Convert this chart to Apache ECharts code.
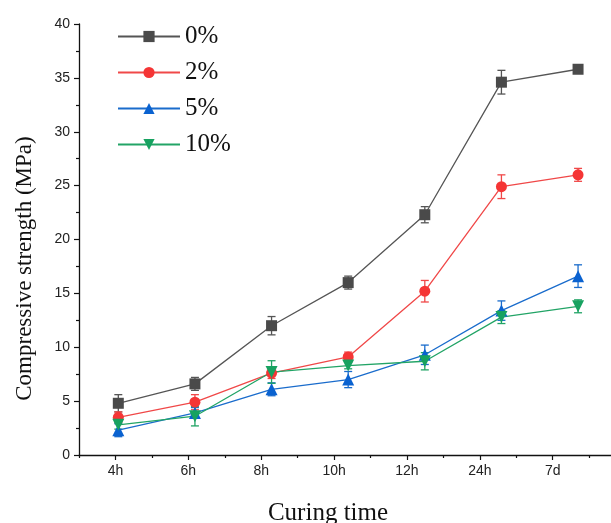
<!DOCTYPE html>
<html>
<head>
<meta charset="utf-8">
<script src="https://cdn.jsdelivr.net/npm/echarts@6/dist/echarts.min.js"></script>
<style>
  html, body { margin: 0; padding: 0; background: #fff; }
  #chart { width: 611px; height: 523px; }
</style>
</head>
<body>
<div id="chart"></div>
<script>
// Curing times (x axis) and compressive strength (MPa) per dosage, with ± error
const categories = ['4h', '6h', '8h', '10h', '12h', '24h', '7d'];
const seriesNames = ['0%', '2%', '5%', '10%'];

const strength0 = [4.8, 6.6, 12.0, 16.0, 22.3, 34.6, 35.8];
const error0 = [0.8, 0.6, 0.85, 0.6, 0.75, 1.1, 0.3];

const strength2 = [3.5, 4.9, 7.6, 9.1, 15.2, 24.9, 26.0];
const error2 = [0.5, 0.7, 0.5, 0.45, 1.0, 1.1, 0.6];

const strength5 = [2.3, 3.9, 6.1, 7.0, 9.3, 13.4, 16.6];
const error5 = [0.6, 0.5, 0.6, 0.75, 0.9, 0.9, 1.05];

const strength10 = [2.8, 3.6, 7.7, 8.3, 8.7, 12.8, 13.8];
const error10 = [0.4, 0.9, 1.05, 0.3, 0.8, 0.6, 0.6];

const yTicks = [0, 5, 10, 15, 20, 25, 30, 35, 40];

const colors = ['#4a4a4a', '#f53535', '#0a62d0', '#17a260'];
const lineColors = ['#555555', '#f04848', '#1a6ccc', '#22a466'];
const symbols = ['rect', 'circle', 'triangle', 'path://M0,0 L10,0 L5,9 Z'];
const symbolSizes = [11, 11, 12, 12];

const values = [strength0, strength2, strength5, strength10];
const errors = [error0, error2, error5, error10];

const positions = categories.map((c, i) => i + 1);

const chart = echarts.init(document.getElementById('chart'));

const lineSeries = values.map((vals, k) => ({
  name: seriesNames[k],
  type: 'line',
  xAxisIndex: 0,
  yAxisIndex: 0,
  data: vals.map((v, i) => [positions[i], v]),
  symbol: symbols[k],
  symbolSize: symbolSizes[k],
  showSymbol: true,
  z: 5,
  itemStyle: { color: colors[k], opacity: 1 },
  lineStyle: { color: lineColors[k], width: 1.3 },
  emphasis: { disabled: true }
}));

// whiskers for the ± errors
const errorSeries = values.map((vals, k) => ({
  type: 'custom',
  xAxisIndex: 0,
  yAxisIndex: 0,
  z: 4,
  silent: true,
  data: vals.map((v, i) => [positions[i], v - errors[k][i], v + errors[k][i]]),
  renderItem: function (params, api) {
    const lo = api.coord([api.value(0), api.value(1)]);
    const hi = api.coord([api.value(0), api.value(2)]);
    const hw = 4;
    const style = { stroke: lineColors[k], lineWidth: 1.3 };
    return {
      type: 'group',
      children: [
        { type: 'line', shape: { x1: lo[0], y1: lo[1], x2: hi[0], y2: hi[1] }, style: style },
        { type: 'line', shape: { x1: lo[0] - hw, y1: lo[1], x2: lo[0] + hw, y2: lo[1] }, style: style },
        { type: 'line', shape: { x1: hi[0] - hw, y1: hi[1], x2: hi[0] + hw, y2: hi[1] }, style: style }
      ]
    };
  }
}));

const option = {
  animation: false,
  backgroundColor: '#ffffff',
  grid: { left: 79, right: 0, top: 24, bottom: 68, containLabel: false, outerBoundsMode: 'none' },
  legend: {
    orient: 'vertical',
    left: 112,
    top: 19,
    itemWidth: 62,
    itemHeight: 14,
    itemGap: 11,
    data: seriesNames,
    textStyle: {
      fontFamily: 'Liberation Serif',
      fontSize: 25,
      lineHeight: 22,
      color: '#111'
    }
  },
  xAxis: [
    {
      // axis that carries the data points
      type: 'value',
      min: 0.487,
      max: 7.43,
      show: false
    },
    {
      // labelled curing-time axis
      type: 'value',
      min: 0.5,
      max: 7.8,
      position: 'bottom',
      axisLine: { show: true, onZero: false, lineStyle: { color: '#111', width: 1.3 } },
      axisTick: { show: true, length: 5, customValues: positions, lineStyle: { color: '#111', width: 1.2 } },
      axisLabel: {
        show: true,
        customValues: positions,
        margin: 9,
        fontFamily: 'Liberation Sans',
        fontSize: 14,
        color: '#222',
        formatter: function (v) { return categories[Math.round(v) - 1] || ''; }
      },
      splitLine: { show: false },
      name: 'Curing time',
      nameLocation: 'middle',
      nameGap: 46,
      nameTextStyle: {
        fontFamily: 'Liberation Serif',
        fontSize: 25,
        color: '#111',
        padding: [0, 34, 0, 0]
      }
    },
    {
      // half-step ticks
      type: 'value',
      min: 0.5,
      max: 7.8,
      position: 'bottom',
      axisLine: { show: false, onZero: false },
      axisTick: { show: true, length: 3, customValues: positions.map(p => p - 0.5).concat([7.5]), lineStyle: { color: '#111', width: 1.2 } },
      axisLabel: { show: false },
      splitLine: { show: false }
    }
  ],
  yAxis: [{
    type: 'value',
    min: yTicks[0],
    max: yTicks[yTicks.length - 1],
    interval: 5,
    axisLine: { show: true, onZero: false, lineStyle: { color: '#111', width: 1.3 } },
    axisTick: { show: true, length: 5, lineStyle: { color: '#111', width: 1.2 } },
    minorTick: { show: true, splitNumber: 2, length: 3, lineStyle: { color: '#111', width: 1.2 } },
    axisLabel: {
      margin: 9,
      fontFamily: 'Liberation Sans',
      fontSize: 14,
      color: '#222'
    },
    splitLine: { show: false },
    minorSplitLine: { show: false },
    name: 'Compressive strength (MPa)',
    nameLocation: 'middle',
    nameGap: 43,
    nameTextStyle: {
      fontFamily: 'Liberation Serif',
      fontSize: 23,
      color: '#111',
      padding: [0, 58, 0, 0]
    }
  }],
  series: errorSeries.concat(lineSeries)
};

chart.setOption(option);
</script>
</body>
</html>
